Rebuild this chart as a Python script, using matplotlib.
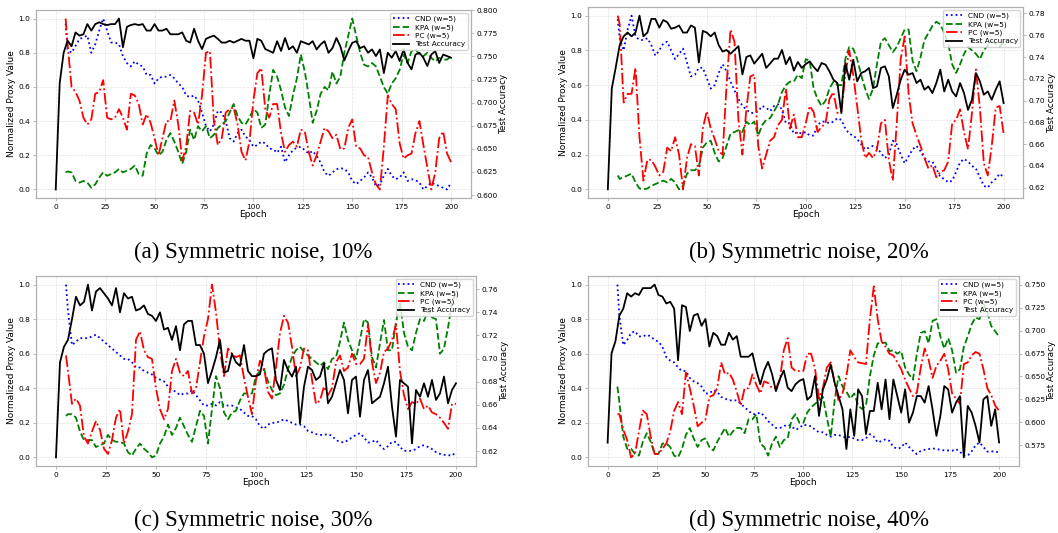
import numpy as np
import matplotlib.pyplot as plt
from matplotlib.ticker import MultipleLocator

# epochs: accuracy every 2 epochs, proxies from epoch 5 (window w=5)
acc_epochs = np.arange(0, 201, 2)
proxy_epochs = np.r_[5, np.arange(6, 201, 2)]

# ---- (a) symmetric noise 10% ----
acc_a = [0.606, 0.721, 0.754, 0.767, 0.761, 0.776, 0.7725, 0.774, 0.785, 0.778,
         0.785, 0.787, 0.785, 0.784, 0.785, 0.785, 0.791, 0.760, 0.782, 0.784,
         0.785, 0.784, 0.785, 0.778, 0.778, 0.785, 0.778, 0.778, 0.780, 0.774,
         0.774, 0.774, 0.776, 0.767, 0.765, 0.780, 0.767, 0.758, 0.769, 0.771,
         0.7725, 0.769, 0.765, 0.765, 0.767, 0.765, 0.767, 0.769, 0.767, 0.767,
         0.748, 0.769, 0.767, 0.758, 0.756, 0.754, 0.7665, 0.756, 0.770, 0.7576,
         0.761, 0.754, 0.7665, 0.7647, 0.763, 0.7665, 0.7576, 0.763, 0.7665, 0.754,
         0.759, 0.770, 0.761, 0.7457, 0.7558, 0.7647, 0.7665, 0.759, 0.761, 0.754,
         0.7576, 0.7504, 0.7576, 0.732, 0.754, 0.7486, 0.7558, 0.745, 0.7576, 0.743,
         0.736, 0.752, 0.754, 0.7486, 0.7396, 0.752, 0.7558, 0.743, 0.752, 0.7504,
         0.7486]
cnd_a = [0.97,
         0.82, 0.80, 0.84, 0.88, 0.89, 0.90, 0.80, 0.85, 0.93, 1.00,
         0.93, 0.86, 0.86, 0.85, 0.78, 0.74, 0.72, 0.75, 0.73, 0.72,
         0.67, 0.67, 0.62, 0.65, 0.66, 0.66, 0.67, 0.65, 0.62, 0.60,
         0.55, 0.54, 0.55, 0.52, 0.45, 0.37, 0.34, 0.38, 0.46, 0.45,
         0.40, 0.30, 0.28, 0.33, 0.35, 0.31, 0.29, 0.25, 0.26, 0.28,
         0.27, 0.24, 0.235, 0.215, 0.25, 0.16, 0.20, 0.23, 0.245, 0.25,
         0.23, 0.21, 0.225, 0.196, 0.157, 0.10, 0.08, 0.10, 0.118, 0.125,
         0.12, 0.10, 0.05, 0.031, 0.05, 0.07, 0.10, 0.07, 0.02, 0.03,
         0.08, 0.12, 0.08, 0.06, 0.07, 0.10, 0.05, 0.06, 0.055, 0.04,
         0.00, 0.02, 0.04, 0.03, 0.02, 0.01, 0.00, 0.04]
kpa_a = [0.10,
         0.105, 0.10, 0.05, 0.04, 0.05, 0.04, 0.01, 0.03, 0.07, 0.10,
         0.08, 0.09, 0.10, 0.12, 0.10, 0.11, 0.12, 0.14, 0.09, 0.08,
         0.21, 0.26, 0.24, 0.20, 0.22, 0.29, 0.33, 0.28, 0.22, 0.15,
         0.22, 0.35, 0.29, 0.37, 0.34, 0.37, 0.30, 0.32, 0.36, 0.38,
         0.40, 0.45, 0.50, 0.43, 0.39, 0.38, 0.42, 0.47, 0.45, 0.36,
         0.38, 0.55, 0.70, 0.66, 0.58, 0.48, 0.43, 0.55, 0.65, 0.79,
         0.69, 0.55, 0.39, 0.46, 0.56, 0.60, 0.58, 0.69, 0.62, 0.66,
         0.80, 0.90, 1.00, 0.90, 0.80, 0.73, 0.72, 0.74, 0.72, 0.66,
         0.60, 0.56, 0.62, 0.65, 0.70, 0.79, 0.74, 0.81, 0.82, 0.79,
         0.78, 0.80, 0.77, 0.75, 0.77, 0.76, 0.76, 0.78]
pc_a = [1.00,
        0.85, 0.60, 0.57, 0.52, 0.42, 0.38, 0.41, 0.56, 0.57, 0.64,
        0.42, 0.41, 0.42, 0.47, 0.42, 0.35, 0.56, 0.55, 0.50, 0.38,
        0.44, 0.39, 0.30, 0.20, 0.30, 0.40, 0.40, 0.52, 0.38, 0.17,
        0.25, 0.46, 0.45, 0.38, 0.55, 0.80, 0.81, 0.40, 0.26, 0.30,
        0.45, 0.47, 0.48, 0.38, 0.22, 0.17, 0.28, 0.52, 0.68, 0.71,
        0.47, 0.42, 0.50, 0.50, 0.33, 0.22, 0.26, 0.28, 0.25, 0.35,
        0.34, 0.22, 0.14, 0.20, 0.28, 0.36, 0.34, 0.30, 0.32, 0.235,
        0.24, 0.36, 0.41, 0.25, 0.24, 0.20, 0.19, 0.10, 0.03, 0.00,
        0.25, 0.55, 0.50, 0.47, 0.27, 0.18, 0.20, 0.21, 0.33, 0.40,
        0.26, 0.13, 0.00, 0.10, 0.30, 0.34, 0.21, 0.16]

# ---- (b) symmetric noise 20% ----
acc_b = [0.6185, 0.711, 0.7305, 0.751, 0.759, 0.7625, 0.759, 0.7625, 0.778, 0.759,
         0.7625, 0.775, 0.775, 0.767, 0.774, 0.772, 0.766, 0.767, 0.769, 0.7625,
         0.7625, 0.769, 0.767, 0.735, 0.764, 0.7625, 0.759, 0.7625, 0.751, 0.745,
         0.7465, 0.743, 0.7465, 0.750, 0.724, 0.740, 0.7415, 0.734, 0.7385, 0.743,
         0.730, 0.734, 0.7385, 0.7385, 0.7465, 0.7335, 0.740, 0.7275, 0.7355, 0.730,
         0.7335, 0.736, 0.731, 0.727, 0.7345, 0.733, 0.7269, 0.7192, 0.7161, 0.6885,
         0.7345, 0.7192, 0.7376, 0.7177, 0.7253, 0.7269, 0.730, 0.7115, 0.713, 0.730,
         0.7315, 0.7223, 0.6931, 0.7054, 0.7192, 0.7284, 0.7238, 0.7253, 0.7161, 0.7192,
         0.710, 0.713, 0.7069, 0.7161, 0.7284, 0.7084, 0.7192, 0.7084, 0.7038, 0.7161,
         0.7069, 0.6915, 0.7008, 0.7253, 0.7177, 0.7054, 0.7084, 0.7008, 0.710, 0.7177,
         0.6977]
cnd_b = [0.98,
         0.87, 0.80, 0.92, 1.00, 0.88, 0.86, 0.86, 0.87, 0.83, 0.77,
         0.80, 0.84, 0.85, 0.80, 0.75, 0.78, 0.81, 0.73, 0.65, 0.66,
         0.70, 0.70, 0.64, 0.58, 0.60, 0.67, 0.72, 0.68, 0.62, 0.57,
         0.52, 0.48, 0.46, 0.44, 0.44, 0.45, 0.48, 0.47, 0.45, 0.48,
         0.49, 0.46, 0.38, 0.38, 0.32, 0.33, 0.32, 0.33, 0.31, 0.31,
         0.37, 0.39, 0.39, 0.38, 0.39, 0.41, 0.40, 0.35, 0.32, 0.31,
         0.29, 0.26, 0.23, 0.24, 0.25, 0.24, 0.21, 0.18, 0.20, 0.28,
         0.26, 0.20, 0.15, 0.19, 0.23, 0.25, 0.22, 0.18, 0.16, 0.16,
         0.12, 0.07, 0.06, 0.04, 0.05, 0.10, 0.155, 0.175, 0.16, 0.135,
         0.12, 0.07, 0.02, 0.01, 0.04, 0.06, 0.09, 0.07]
kpa_b = [0.08,
         0.06, 0.07, 0.08, 0.09, 0.04, 0.005, 0.00, 0.005, 0.02, 0.03,
         0.04, 0.05, 0.04, 0.06, 0.04, 0.00, 0.02, 0.09, 0.11, 0.11,
         0.13, 0.24, 0.27, 0.28, 0.21, 0.16, 0.18, 0.25, 0.32, 0.33,
         0.34, 0.33, 0.39, 0.37, 0.39, 0.31, 0.37, 0.40, 0.41, 0.45,
         0.49, 0.56, 0.60, 0.62, 0.62, 0.66, 0.64, 0.75, 0.74, 0.58,
         0.52, 0.48, 0.51, 0.58, 0.62, 0.60, 0.60, 0.75, 0.82, 0.81,
         0.75, 0.66, 0.58, 0.52, 0.58, 0.72, 0.85, 0.87, 0.83, 0.79,
         0.82, 0.87, 0.92, 0.92, 0.74, 0.68, 0.76, 0.86, 0.90, 0.94,
         0.965, 0.95, 0.90, 0.84, 0.72, 0.67, 0.72, 0.78, 0.82, 0.80,
         0.78, 0.75, 0.80, 0.83, 0.85, 0.84, 0.82, 0.85]
pc_b = [1.00,
        0.95, 0.50, 0.55, 0.55, 0.70, 0.30, 0.05, 0.17, 0.17, 0.13,
        0.08, 0.10, 0.24, 0.22, 0.30, 0.20, 0.00, 0.18, 0.26, 0.25,
        0.08, 0.35, 0.45, 0.35, 0.29, 0.22, 0.20, 0.60, 0.92, 0.85,
        0.40, 0.20, 0.46, 0.65, 0.66, 0.25, 0.12, 0.20, 0.28, 0.30,
        0.37, 0.40, 0.58, 0.35, 0.43, 0.30, 0.30, 0.38, 0.48, 0.445,
        0.33, 0.36, 0.38, 0.52, 0.56, 0.44, 0.445, 0.66, 0.80, 0.66,
        0.48, 0.29, 0.18, 0.21, 0.18, 0.23, 0.38, 0.40, 0.17, 0.05,
        0.38, 0.75, 0.88, 0.55, 0.38, 0.31, 0.25, 0.18, 0.12, 0.14,
        0.07, 0.10, 0.11, 0.16, 0.38, 0.40, 0.46, 0.33, 0.23, 0.44,
        0.69, 0.47, 0.15, 0.08, 0.25, 0.47, 0.48, 0.32]

# ---- (c) symmetric noise 30% ----
acc_c = [0.6145, 0.6967, 0.7102, 0.7162, 0.734, 0.7535, 0.746, 0.749, 0.764, 0.7416,
         0.758, 0.761, 0.7565, 0.752, 0.746, 0.761, 0.740, 0.7565, 0.752, 0.7535,
         0.7416, 0.743, 0.746, 0.7386, 0.737, 0.7326, 0.740, 0.7251, 0.7266, 0.7162,
         0.7281, 0.7072, 0.7296, 0.7326, 0.7326, 0.7117, 0.7117, 0.7042, 0.6788, 0.6893,
         0.7012, 0.7162, 0.6878, 0.6893, 0.7042, 0.6967, 0.6937, 0.7117, 0.6893, 0.6848,
         0.6848, 0.6863, 0.7042, 0.7072, 0.7089, 0.6815, 0.6728, 0.6988, 0.6901, 0.6844,
         0.693, 0.6439, 0.6757, 0.693, 0.6901, 0.6815, 0.6844, 0.6959, 0.6613, 0.667,
         0.6786, 0.6901, 0.6815, 0.6526, 0.6815, 0.6844, 0.6497, 0.6815, 0.6901, 0.6613,
         0.6642, 0.667, 0.6786, 0.693, 0.6584, 0.6324, 0.6815, 0.6786, 0.6757, 0.6266,
         0.6728, 0.667, 0.6786, 0.667, 0.6815, 0.6642, 0.6699, 0.6844, 0.6613, 0.6728,
         0.6786]
cnd_c = [1.00,
         0.85, 0.65, 0.67, 0.69, 0.69, 0.69, 0.70, 0.71, 0.69, 0.67,
         0.65, 0.63, 0.61, 0.59, 0.57, 0.57, 0.55, 0.52, 0.52, 0.50,
         0.49, 0.48, 0.46, 0.45, 0.44, 0.41, 0.39, 0.38, 0.36, 0.37,
         0.37, 0.39, 0.36, 0.33, 0.30, 0.30, 0.31, 0.30, 0.32, 0.30,
         0.30, 0.30, 0.29, 0.28, 0.26, 0.24, 0.24, 0.22, 0.18, 0.165,
         0.19, 0.20, 0.20, 0.21, 0.22, 0.21, 0.20, 0.19, 0.19, 0.18,
         0.153, 0.145, 0.135, 0.13, 0.13, 0.135, 0.125, 0.10, 0.09, 0.086,
         0.10, 0.115, 0.13, 0.14, 0.115, 0.086, 0.09, 0.10, 0.07, 0.048,
         0.065, 0.09, 0.09, 0.06, 0.038, 0.038, 0.038, 0.048, 0.065, 0.07,
         0.06, 0.048, 0.03, 0.02, 0.015, 0.013, 0.01, 0.03]
kpa_c = [0.24,
         0.25, 0.25, 0.23, 0.15, 0.10, 0.10, 0.10, 0.06, 0.07, 0.08,
         0.13, 0.10, 0.09, 0.09, 0.08, 0.03, 0.01, 0.05, 0.08, 0.05,
         0.03, 0.00, 0.01, 0.08, 0.12, 0.19, 0.13, 0.17, 0.23, 0.18,
         0.13, 0.09, 0.18, 0.27, 0.24, 0.08, 0.28, 0.47, 0.40, 0.26,
         0.22, 0.26, 0.27, 0.33, 0.37, 0.37, 0.37, 0.47, 0.50, 0.51,
         0.44, 0.39, 0.36, 0.37, 0.42, 0.51, 0.58, 0.62, 0.64, 0.61,
         0.59, 0.57, 0.55, 0.53, 0.55, 0.51, 0.57, 0.58, 0.67, 0.78,
         0.68, 0.62, 0.57, 0.68, 0.80, 0.78, 0.58, 0.52, 0.66, 0.795,
         0.62, 0.62, 0.78, 0.90, 0.72, 0.64, 0.62, 0.72, 0.80, 0.79,
         0.85, 0.81, 0.80, 0.60, 0.63, 0.75, 0.90, 0.95]
pc_c = [0.59,
        0.50, 0.31, 0.34, 0.30, 0.12, 0.08, 0.15, 0.21, 0.16, 0.05,
        0.02, 0.10, 0.23, 0.28, 0.08, 0.15, 0.25, 0.68, 0.73, 0.62,
        0.58, 0.57, 0.40, 0.28, 0.22, 0.28, 0.50, 0.57, 0.49, 0.47,
        0.50, 0.37, 0.40, 0.55, 0.70, 0.80, 1.00, 0.84, 0.62, 0.47,
        0.63, 0.60, 0.58, 0.59, 0.46, 0.35, 0.25, 0.45, 0.56, 0.52,
        0.38, 0.34, 0.52, 0.72, 0.82, 0.78, 0.64, 0.47, 0.52, 0.63,
        0.62, 0.45, 0.31, 0.33, 0.41, 0.36, 0.40, 0.55, 0.59, 0.50,
        0.52, 0.60, 0.54, 0.54, 0.57, 0.77, 0.55, 0.43, 0.49, 0.61,
        0.63, 0.68, 0.77, 0.50, 0.36, 0.28, 0.32, 0.31, 0.34, 0.28,
        0.30, 0.26, 0.25, 0.23, 0.20, 0.165, 0.31, 0.31]

# ---- (d) symmetric noise 40% ----
acc_d = [0.5777, 0.6753, 0.6885, 0.7166, 0.7241, 0.741, 0.7373, 0.741, 0.7391, 0.7466,
         0.7466, 0.7466, 0.7504, 0.7391, 0.7373, 0.7298, 0.7316, 0.7241, 0.6678, 0.7279,
         0.726, 0.6997, 0.7166, 0.7185, 0.7054, 0.7129, 0.6828, 0.6978, 0.6941, 0.6847,
         0.6847, 0.6978, 0.6903, 0.6941, 0.6716, 0.6716, 0.6716, 0.6753, 0.6566, 0.6415,
         0.6566, 0.666, 0.6528, 0.634, 0.6472, 0.6566, 0.6378, 0.634, 0.6415, 0.6453,
         0.6472, 0.6246, 0.6286, 0.6504, 0.6069, 0.6359, 0.6467, 0.663, 0.6431, 0.6286,
         0.6141, 0.5707, 0.6141, 0.5851, 0.6359, 0.6286, 0.587, 0.6123, 0.6123, 0.6431,
         0.6141, 0.6467, 0.6033, 0.6467, 0.6286, 0.6105, 0.6359, 0.5996, 0.6105, 0.6286,
         0.6286, 0.6214, 0.6395, 0.6141, 0.5851, 0.6069, 0.6395, 0.6359, 0.6105, 0.6214,
         0.6286, 0.5616, 0.6178, 0.6105, 0.596, 0.5779, 0.625, 0.6286, 0.596, 0.6141,
         0.5779]
cnd_d = [1.00,
         0.82, 0.65, 0.68, 0.72, 0.73, 0.70, 0.70, 0.71, 0.70, 0.68,
         0.67, 0.64, 0.58, 0.56, 0.55, 0.52, 0.50, 0.50, 0.46, 0.44,
         0.43, 0.41, 0.37, 0.37, 0.39, 0.38, 0.35, 0.34, 0.33, 0.33,
         0.33, 0.31, 0.29, 0.27, 0.25, 0.25, 0.26, 0.24, 0.21, 0.19,
         0.17, 0.17, 0.18, 0.19, 0.18, 0.16, 0.17, 0.19, 0.185, 0.18,
         0.16, 0.145, 0.145, 0.13, 0.12, 0.13, 0.13, 0.12, 0.115, 0.12,
         0.108, 0.10, 0.10, 0.11, 0.134, 0.12, 0.086, 0.095, 0.105, 0.095,
         0.06, 0.05, 0.057, 0.086, 0.06, 0.038, 0.019, 0.038, 0.044, 0.048,
         0.052, 0.048, 0.044, 0.04, 0.04, 0.038, 0.048, 0.033, 0.01, 0.01,
         0.035, 0.07, 0.086, 0.06, 0.033, 0.035, 0.033, 0.029]
kpa_d = [0.41,
         0.32, 0.12, 0.05, 0.05, 0.02, 0.01, 0.09, 0.14, 0.09, 0.02,
         0.02, 0.08, 0.08, 0.06, 0.01, 0.00, 0.05, 0.13, 0.17, 0.11,
         0.06, 0.10, 0.11, 0.06, 0.04, 0.09, 0.13, 0.17, 0.12, 0.15,
         0.17, 0.17, 0.14, 0.22, 0.22, 0.25, 0.08, 0.06, 0.01, 0.08,
         0.12, 0.06, 0.10, 0.11, 0.22, 0.25, 0.20, 0.20, 0.26, 0.29,
         0.31, 0.33, 0.35, 0.23, 0.12, 0.33, 0.47, 0.41, 0.38, 0.34,
         0.37, 0.30, 0.28, 0.30, 0.47, 0.59, 0.66, 0.66, 0.665, 0.615,
         0.62, 0.60, 0.615, 0.52, 0.48, 0.45, 0.60, 0.72, 0.73, 0.66,
         0.79, 0.80, 0.70, 0.63, 0.69, 0.62, 0.49, 0.51, 0.64, 0.70,
         0.77, 0.81, 0.80, 0.89, 0.84, 0.76, 0.73, 0.70]
pc_d = [0.25,
        0.25, 0.16, 0.10, 0.00, 0.02, 0.15, 0.27, 0.25, 0.12, 0.02,
        0.02, 0.05, 0.08, 0.15, 0.27, 0.32, 0.25, 0.49, 0.40, 0.30,
        0.18, 0.20, 0.22, 0.35, 0.36, 0.40, 0.55, 0.48, 0.49, 0.45,
        0.38, 0.30, 0.40, 0.40, 0.48, 0.42, 0.37, 0.44, 0.43, 0.40,
        0.40, 0.45, 0.62, 0.69, 0.52, 0.50, 0.50, 0.50, 0.60, 0.60,
        0.51, 0.34, 0.40, 0.52, 0.55, 0.43, 0.33, 0.37, 0.47, 0.62,
        0.58, 0.55, 0.545, 0.54, 0.80, 0.99, 0.80, 0.67, 0.64, 0.60,
        0.59, 0.55, 0.51, 0.45, 0.40, 0.355, 0.375, 0.52, 0.63, 0.565,
        0.46, 0.53, 0.56, 0.60, 0.51, 0.37, 0.34, 0.31, 0.54, 0.55,
        0.59, 0.61, 0.60, 0.51, 0.40, 0.36, 0.30, 0.27]

captions = ["(a) Symmetric noise, 10%", "(b) Symmetric noise, 20%",
            "(c) Symmetric noise, 30%", "(d) Symmetric noise, 40%"]

# axes rectangles (fig fraction) and right-axis tick step per panel
rects = [[0.034, 0.6285, 0.411, 0.3527],
         [0.5558, 0.6285, 0.4115, 0.3584],
         [0.034, 0.1257, 0.4159, 0.3565],
         [0.5558, 0.1257, 0.4070, 0.3565]]
acc_steps = [0.025, 0.02, 0.02, 0.025]
caption_pos = [(0.239, 0.527), (0.765, 0.527), (0.239, 0.024), (0.765, 0.024)]

frame = '#b0b0b0'
lw = 1.3

fig = plt.figure(figsize=(10.58, 5.33), dpi=100)


def style_axis(a):
    for s in a.spines.values():
        s.set_color(frame)
    a.tick_params(labelsize=5.3, length=2.5, width=0.6, color=frame, pad=1.5)


def draw_panel(rect, acc, cnd, kpa, pc, step, caption, cpos):
    ax = fig.add_axes(rect)
    ax.plot(proxy_epochs, cnd, ':', color='blue', lw=lw, label='CND (w=5)')
    ax.plot(proxy_epochs, kpa, '--', color='green', lw=lw, label='KPA (w=5)')
    ax.plot(proxy_epochs, pc, '-.', color='red', lw=lw, label='PC (w=5)')
    ax.set_xlim(-10, 210)
    ax.set_ylim(-0.05, 1.05)
    ax.xaxis.set_major_locator(MultipleLocator(25))
    ax.yaxis.set_major_locator(MultipleLocator(0.2))
    ax.grid(True, ls='--', lw=0.5, alpha=0.35)
    ax.set_xlabel('Epoch', fontsize=6.5, labelpad=0)
    ax.set_ylabel('Normalized Proxy Value', fontsize=6.5, labelpad=2)
    style_axis(ax)

    ax2 = ax.twinx()
    ax2.plot(acc_epochs, acc, '-', color='black', lw=lw, label='Test Accuracy')
    ax2.yaxis.set_major_locator(MultipleLocator(step))
    ax2.set_ylabel('Test Accuracy', fontsize=6.3, labelpad=1)
    style_axis(ax2)

    h1, l1 = ax.get_legend_handles_labels()
    h2, l2 = ax2.get_legend_handles_labels()
    ax2.legend(h1 + h2, l1 + l2, loc='upper right', fontsize=5.3,
               borderaxespad=0.4, borderpad=0.35, handlelength=2.2,
               labelspacing=0.25)

    fig.text(cpos[0], cpos[1], caption, ha='center', va='center',
             family='Liberation Serif', fontsize=16.5)


series = [(acc_a, cnd_a, kpa_a, pc_a), (acc_b, cnd_b, kpa_b, pc_b),
          (acc_c, cnd_c, kpa_c, pc_c), (acc_d, cnd_d, kpa_d, pc_d)]

for i in range(4):
    acc, cnd, kpa, pc = series[i]
    draw_panel(rects[i], acc, cnd, kpa, pc, acc_steps[i], captions[i], caption_pos[i])

fig.savefig('out.png', dpi=100)
